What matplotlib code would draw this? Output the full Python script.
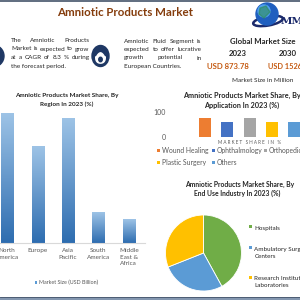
import numpy as np
import matplotlib.pyplot as plt
from matplotlib.colors import LinearSegmentedColormap
from matplotlib.patches import Circle, Rectangle, Ellipse, Polygon

plt.rcParams['font.family'] = ['Lato', 'DejaVu Sans']

# данные
regions = ['North\nAmerica', 'Europe', 'Asia\nPacific', 'South\nAmerica', 'Middle\nEast &\nAfrica']
region_size = [130, 97, 125, 30.5, 23.5]

applications = ['Wound Healing', 'Ophthalmology', 'Orthopedics', 'Plastic Surgery', 'Others']
app_share = [77, 61, 77, 61, 61]
app_colors = ['#ED7D31', '#4472C4', '#A5A5A5', '#FFC000', '#5B9BD5']

end_use = ['Hospitals', 'Ambulatory Surgical\nCenters', 'Research Institutes &\nLaboratories']
end_use_share = [42, 27, 31]
end_use_colors = ['#70AD47', '#5B9BD5', '#FFC000']

GRAY = '#595959'
BODY_FONT = ['Liberation Sans Narrow', 'Lato']

fig = plt.figure(figsize=(3, 3), dpi=100)


def px(left, top, w, h):
    return [left / 300, (300 - top - h) / 300, w / 300, h / 300]


# --- подложка в пикселях
ov = fig.add_axes([0, 0, 1, 1], zorder=5)
ov.set_xlim(0, 300)
ov.set_ylim(300, 0)
ov.axis('off')
ov.patch.set_alpha(0)

ov.plot([0, 300], [1, 1], color='#44546A', lw=1.2)
ov.add_patch(Rectangle((0, 296.5), 300, 4, color='#8497B0', lw=0))
ov.plot([0, 300], [296.5, 296.5], color='#44546A', lw=0.6)

ov.text(125, 12, 'Amniotic Products Market', ha='center', va='center',
        fontsize=8.3, fontweight='bold', color='#843C0C')

# логотип
ov.add_patch(Ellipse((268, 21), 30, 9, angle=-10, fill=False, ec='#1B2A6B', lw=1.8))
ov.add_patch(Circle((267, 14), 11, color='#1F5FBF'))
ov.add_patch(Circle((264, 11), 6, color='#4FA0F0'))
ov.add_patch(Polygon([[260, 8], [266, 6], [270, 12], [264, 18], [259, 14]], color='#2E8B57', alpha=0.6))
ov.text(281, 21, 'MM', ha='left', va='center', fontsize=7.5, fontweight='bold',
        color='#1B2A6B', family='DejaVu Serif')

# иконки
ov.add_patch(Circle((-7, 56), 11, color='#1F3864'))
ov.add_patch(Ellipse((100.5, 56), 17, 21, color='#1F3864'))
t = np.linspace(0, 2 * np.pi, 60)
fx = 100.5 + 4.5 * np.sin(t) * (1 - 0.35 * np.cos(t))
fy = 58 - 4.5 * np.cos(t) * 1.15 - 1.5 * (np.cos(t) < 0) * np.abs(np.sin(t)) ** 3
ov.add_patch(Polygon(np.c_[fx, fy], color='white'))
ov.add_patch(Ellipse((100.5, 59.5), 3.5, 4.5, color='#1F3864'))

r = fig.canvas.get_renderer()
# размер шрифта подбираем так, чтобы строка заполняла колонку
probe = ov.text(0, 0, 'Market is expected to grow', fontsize=10, family=BODY_FONT)
BODY = 10 * 77 / probe.get_window_extent(r).width
probe.remove()


def justified(lines, x0, x1, ys, size, color='#262626'):
    for k, (line, y) in enumerate(zip(lines, ys)):
        if k == len(lines) - 1:
            ov.text(x0, y, line, fontsize=size, color=color, va='center', family=BODY_FONT)
            continue
        words = line.split()
        ts = [ov.text(0, y, w, fontsize=size, color=color, va='center', family=BODY_FONT)
              for w in words]
        ws = [tt.get_window_extent(r).width for tt in ts]
        gap = (x1 - x0 - sum(ws)) / (len(words) - 1)
        x = x0
        for tt, w in zip(ts, ws):
            tt.set_x(x)
            x += w + gap


justified(['The Amniotic Products', 'Market is expected to grow',
           'at a CAGR of 8.3 % during', 'the forecast period.'],
          11, 89.5, [40.5, 49, 57.7, 66.3], BODY)
justified(['Amniotic Fluid Segment is', 'expected to offer lucrative',
           'growth potential in', 'European Countries.'],
          124, 201.5, [41.5, 49.5, 58, 66.3], BODY)

ov.text(263, 41.5, 'Global Market Size', ha='center', va='center', fontsize=5.6,
        fontweight='bold', color='#262626')
ov.text(238, 53, '2023', ha='center', va='center', fontsize=5.6, fontweight='bold', color='#262626')
ov.text(288, 53, '2030', ha='center', va='center', fontsize=5.6, fontweight='bold', color='#262626')
ov.text(228, 66.5, 'USD 873.78', ha='center', va='center', fontsize=5.6, fontweight='bold', color='#C55A11')
ov.text(268, 66.5, 'USD 1526', ha='left', va='center', fontsize=5.3, fontweight='bold', color='#C55A11')
ov.text(263, 81, 'Market Size in Million', ha='center', va='center', fontsize=4.6, color='#262626')

# --- регионы
ov.text(67, 95, 'Amniotic Products Market Share, By', ha='center', va='center',
        fontsize=4.6, fontweight='bold', color='#262626')
ov.text(67, 104, 'Region In 2023 (%)', ha='center', va='center',
        fontsize=4.6, fontweight='bold', color='#262626')

ax1 = fig.add_axes(px(-8, 110, 153, 133.3))
xs = np.arange(len(regions))
bars = ax1.bar(xs, region_size, width=0.4, color='none')
cmap = LinearSegmentedColormap.from_list('g', ['#2E6DB0', '#9DC3E6'])
grad = np.linspace(1, 0, 100).reshape(-1, 1)
for b in bars:
    x0, y0, w, h = b.get_x(), b.get_y(), b.get_width(), b.get_height()
    ax1.imshow(grad, extent=[x0, x0 + w, y0, y0 + h], cmap=cmap, aspect='auto')
ax1.set_xlim(-0.5, -0.5 + 153 / 30.4)
ax1.set_ylim(0, 133.3)
for s in ['top', 'right', 'left']:
    ax1.spines[s].set_visible(False)
ax1.spines['bottom'].set_color('#D9D9D9')
ax1.spines['bottom'].set_linewidth(0.8)
ax1.set_yticks([])
ax1.set_xticks(xs)
ax1.set_xticklabels(regions, fontsize=4.6, color=GRAY, linespacing=1.35)
ax1.tick_params(axis='x', length=0, pad=3.5)
ax1.patch.set_alpha(0)

ov.add_patch(Rectangle((34.5, 281), 2.6, 2.6, color='#5B9BD5', lw=0))
ov.text(39, 282.5, 'Market Size (USD Billion)', va='center', fontsize=3.9, color=GRAY)

# --- применение
ov.text(242, 95.5, 'Amniotic Products Market Share, By', ha='center', va='center',
        fontsize=5.2, fontweight='bold', color='#262626')
ov.text(242, 105, 'Application In 2023 (%)', ha='center', va='center',
        fontsize=5.2, fontweight='bold', color='#262626')

ax2 = fig.add_axes(px(170, 112, 140, 24.7))
xa = np.arange(len(applications))
ax2.bar(xa, app_share, width=0.54, color=app_colors)
ax2.set_xlim(-1.57, -1.57 + 140 / 22.3)
ax2.set_ylim(0, 100)
for s in ax2.spines.values():
    s.set_visible(False)
ax2.set_xticks([])
ax2.set_yticks([0, 100])
ax2.tick_params(axis='y', length=0, pad=3, labelsize=5, labelcolor=GRAY)
ax2.patch.set_alpha(0)

ov.text(250, 142, 'M A R K E T   S H A R E   I N   %', ha='center', va='center',
        fontsize=3.3, color=GRAY)
leg_pos = [(158, 150.7), (213, 150.7), (265, 150.7), (158, 162.3), (213, 162.3)]
for (lx, ly), name, c in zip(leg_pos, applications, app_colors):
    ov.add_patch(Rectangle((lx - 1.3, ly - 1.6), 3, 3, color=c, lw=0))
    ov.text(lx + 3.5, ly, name, va='center', fontsize=4.9, color=GRAY)

# --- конечные пользователи
ov.text(240, 184, 'Amniotic Products Market Share, By', ha='center', va='center',
        fontsize=4.9, fontweight='bold', color='#262626')
ov.text(237.5, 193.3, 'End Use Industry In 2023 (%)', ha='center', va='center',
        fontsize=4.9, fontweight='bold', color='#262626')

ax3 = fig.add_axes(px(165.5, 215, 76, 76))
ax3.pie(end_use_share, colors=end_use_colors, startangle=90, counterclock=False,
        radius=1, wedgeprops=dict(edgecolor='white', linewidth=0.6))
ax3.set_xlim(-1, 1)
ax3.set_ylim(-1, 1)

leg_y = [226.7, 247.7, 277.3]
for ly, name, c in zip(leg_y, end_use, end_use_colors):
    ov.add_patch(Rectangle((249, ly - 1.5), 3, 3, color=c, lw=0))
    ov.text(254.5, ly - 0.8, name, va='top', fontsize=4.5, color='#262626', linespacing=1.45)

fig.savefig('out.png', dpi=100)
